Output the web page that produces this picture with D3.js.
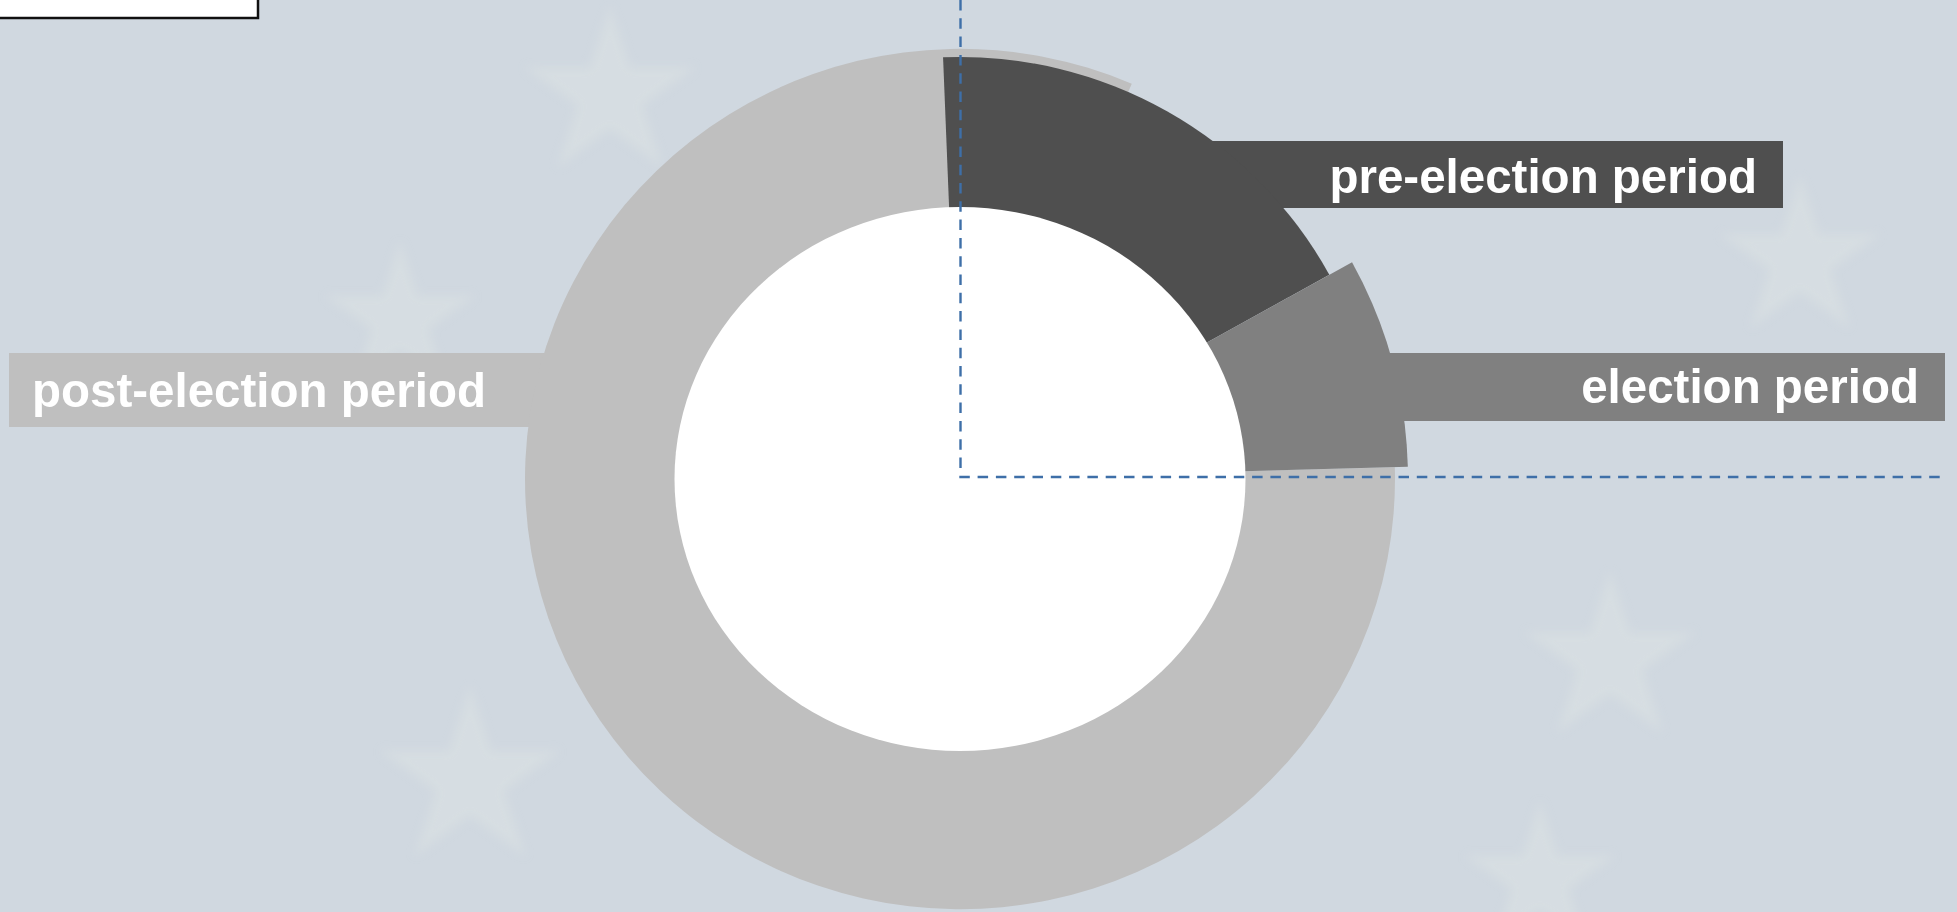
<!DOCTYPE html>
<html>
<head>
<meta charset="utf-8">
<script src="https://cdn.jsdelivr.net/npm/d3@7"></script>
<style>
  body { margin: 0; background: #d0d8e0; overflow: hidden; }
  svg { display: block; }
</style>
</head>
<body>
<div id="chart"></div>
<script>
//=====================
// Electoral cycle donut
//=====================

const periods = ['pre-election period', 'election period', 'post-election period'];
const shares = [17.6, 7.6, 74.8];   // % of the cycle
const overlap = [0, 0, 7.1];        // post-election slice runs on under the pre-election one (%)
const colors = ['#4f4f4f', '#808080', '#bfbfbf'];

let width = 1957;
let height = 912;
let cx = 960;
let cy = 479;
let outerR = [422, 448, 435];
let squash = [1, 1, 0.989];          // the big slice is a touch flatter than wide
let hole = { rx: 285.5, ry: 272 };
let deg = Math.PI / 180;
let startAt = -2.3 * deg;

let svg = d3.select('#chart').append('svg')
  .attr('width', width)
  .attr('height', height);

let defs = svg.append('defs');
defs.append('filter')
  .attr('id', 'soft')
  .attr('x', '-50%').attr('y', '-50%')
  .attr('width', '200%').attr('height', '200%')
  .append('feGaussianBlur')
  .attr('stdDeviation', 5);

svg.append('rect')
  .attr('width', width)
  .attr('height', height)
  .attr('fill', '#d0d8e0');

// faded watermark stars in the backdrop
let stars = [[610, 95, 9000], [400, 320, 7000], [1800, 260, 8000], [1610, 660, 9000], [470, 780, 10000], [1540, 880, 7000]];
svg.append('g')
  .attr('filter', 'url(#soft)')
  .selectAll('path')
  .data(stars)
  .join('path')
  .attr('transform', d => 'translate(' + d[0] + ',' + d[1] + ')')
  .attr('d', d => d3.symbol(d3.symbolStar, d[2])())
  .attr('fill', '#e3e8e4')
  .attr('opacity', 0.35);

// cut-off picture in the top left corner
svg.append('rect')
  .attr('x', -3)
  .attr('y', -3)
  .attr('width', 261)
  .attr('height', 21)
  .attr('fill', '#ffffff')
  .attr('stroke', '#111111')
  .attr('stroke-width', 2.5);

// label boxes (drawn first, the slices cover their inner ends)
let labels = [
  { x: 1190, y: 141, w: 593, h: 67, tx: 1757, ty: 193, anchor: 'end' },
  { x: 1385, y: 353, w: 560, h: 68, tx: 1919, ty: 403, anchor: 'end' },
  { x: 9, y: 353, w: 560, h: 74, tx: 32, ty: 407, anchor: 'start' }
];

let lab = svg.append('g').selectAll('g')
  .data(periods)
  .join('g');

lab.append('rect')
  .attr('x', (d, i) => labels[i].x)
  .attr('y', (d, i) => labels[i].y)
  .attr('width', (d, i) => labels[i].w)
  .attr('height', (d, i) => labels[i].h)
  .attr('fill', (d, i) => colors[i]);

lab.append('text')
  .attr('x', (d, i) => labels[i].tx)
  .attr('y', (d, i) => labels[i].ty)
  .attr('text-anchor', (d, i) => labels[i].anchor)
  .attr('fill', '#ffffff')
  .style('font-family', '"Liberation Sans", Arial, Helvetica, sans-serif')
  .style('font-weight', 'bold')
  .style('font-size', '47.5px')
  .text(d => d);

// slices
let pie = d3.pie()
  .sort(null)
  .startAngle(startAt)
  .endAngle(startAt + 2 * Math.PI)
  .value(d => d);

let arcs = pie(shares).map((a, i) => {
  a.endAngle += overlap[i] / 100 * 2 * Math.PI;
  a.index = i;
  return a;
});

let arc = d3.arc()
  .innerRadius(0)
  .outerRadius(d => outerR[d.index]);

let g = svg.append('g').attr('transform', 'translate(' + cx + ',' + cy + ')');

// post-election first so the other two sit on top of it
g.selectAll('path')
  .data([arcs[2], arcs[0], arcs[1]])
  .join('path')
  .attr('d', arc)
  .attr('transform', d => 'scale(1,' + squash[d.index] + ')')
  .attr('fill', d => colors[d.index]);

g.append('ellipse')
  .attr('rx', hole.rx)
  .attr('ry', hole.ry)
  .attr('fill', '#ffffff');

// dashed guides
let guide = d3.line();
svg.append('path')
  .attr('d', guide([[960.5, 0], [960.5, 477], [1945, 477]]))
  .attr('fill', 'none')
  .attr('stroke', '#3e6fa8')
  .attr('stroke-width', 2.4)
  .attr('stroke-dasharray', '10.5,7.8');
</script>
</body>
</html>
